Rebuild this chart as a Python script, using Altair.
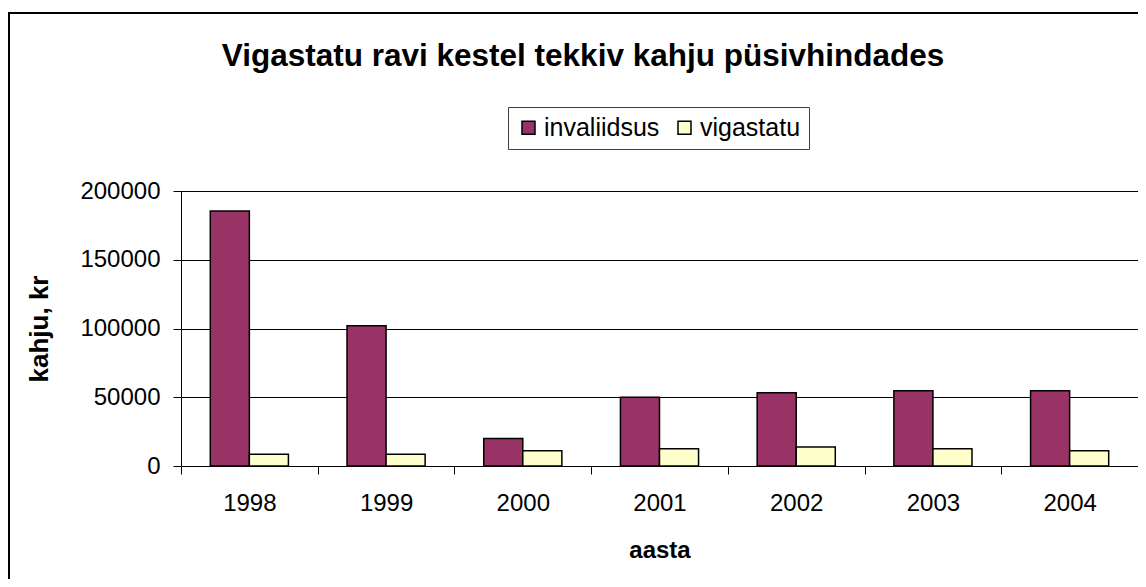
import altair as alt
import pandas as pd

years = ["1998", "1999", "2000", "2001", "2002", "2003", "2004"]
invaliidsus = [185500, 102000, 20000, 50000, 53300, 54800, 54800]
vigastatu = [8500, 8500, 11100, 12600, 13800, 12600, 11100]
series = ["invaliidsus", "vigastatu"]
colors = ["#993366", "#FFFFCC"]
y_ticks = [0, 50000, 100000, 150000, 200000]
title_text = "Vigastatu ravi kestel tekkiv kahju püsivhindades"

rows = []
for i, yr in enumerate(years):
    rows.append({"aasta": yr, "seeria": series[0], "kahju": invaliidsus[i]})
    rows.append({"aasta": yr, "seeria": series[1], "kahju": vigastatu[i]})
df = pd.DataFrame(rows)

FONT = "Liberation Sans, Arial, sans-serif"
W, H = 957, 275
PL, PT = 173, 183

bars = alt.Chart(df).mark_bar(stroke="black", strokeWidth=1.5).encode(
    x=alt.X("aasta:N", sort=years,
            scale=alt.Scale(paddingInner=0, paddingOuter=0),
            axis=alt.Axis(title="aasta", labelAngle=0, tickBand="extent",
                          tickSize=8, tickColor="black", domainColor="black",
                          labelFontSize=24, labelPadding=17, labelColor="black",
                          titleFontSize=24, titleFontWeight="bold", titlePadding=23,
                          titleColor="black", labelFont=FONT, titleFont=FONT)),
    xOffset=alt.XOffset("seeria:N", sort=series,
                        scale=alt.Scale(paddingInner=0, paddingOuter=0.75)),
    y=alt.Y("kahju:Q",
            scale=alt.Scale(domain=[0, 200000], nice=False),
            axis=alt.Axis(title="kahju, kr", values=y_ticks, format="d", grid=True,
                          gridColor="black", gridWidth=1, gridOpacity=1,
                          tickSize=8, tickColor="black", domainColor="black",
                          labelFontSize=24, labelPadding=13, labelColor="black",
                          titleFontSize=26, titleFontWeight="bold", titlePadding=27,
                          titleColor="black", labelFont=FONT, titleFont=FONT)),
    color=alt.Color("seeria:N", sort=series,
                    scale=alt.Scale(domain=series, range=colors),
                    legend=alt.Legend(title=None, orient="none", legendX=327, legendY=-84,
                                      direction="horizontal", padding=8,
                                      strokeColor="#404040", fillColor="white",
                                      symbolType="square", symbolSize=169,
                                      symbolStrokeColor="black", symbolStrokeWidth=1.5,
                                      symbolOpacity=1, labelFontSize=25, labelFont=FONT,
                                      labelColor="black", labelOffset=3,
                                      columnPadding=12)),
)

title_layer = alt.Chart(pd.DataFrame({"t": [title_text]})).mark_text(
    font=FONT, fontSize=31.5, fontWeight="bold", align="center",
    baseline="alphabetic", color="black"
).encode(text="t:N", x=alt.value(402), y=alt.value(-125))

border = alt.Chart(pd.DataFrame({"b": [0]})).mark_rect(
    filled=False, stroke="black", strokeWidth=2
).encode(x=alt.value(-172), y=alt.value(-178), x2=alt.value(2000), y2=alt.value(2000))

chart = alt.layer(bars, title_layer, border).properties(
    width=W, height=H,
    autosize=alt.AutoSizeParams(type="none"),
    padding={"left": PL, "top": PT, "right": 0, "bottom": 113},
).configure_view(
    fill="#C0C0C0", stroke="#808080", strokeWidth=1
).configure(background="white")

chart.save("out.html", embed_options={"renderer": "svg", "actions": False})
